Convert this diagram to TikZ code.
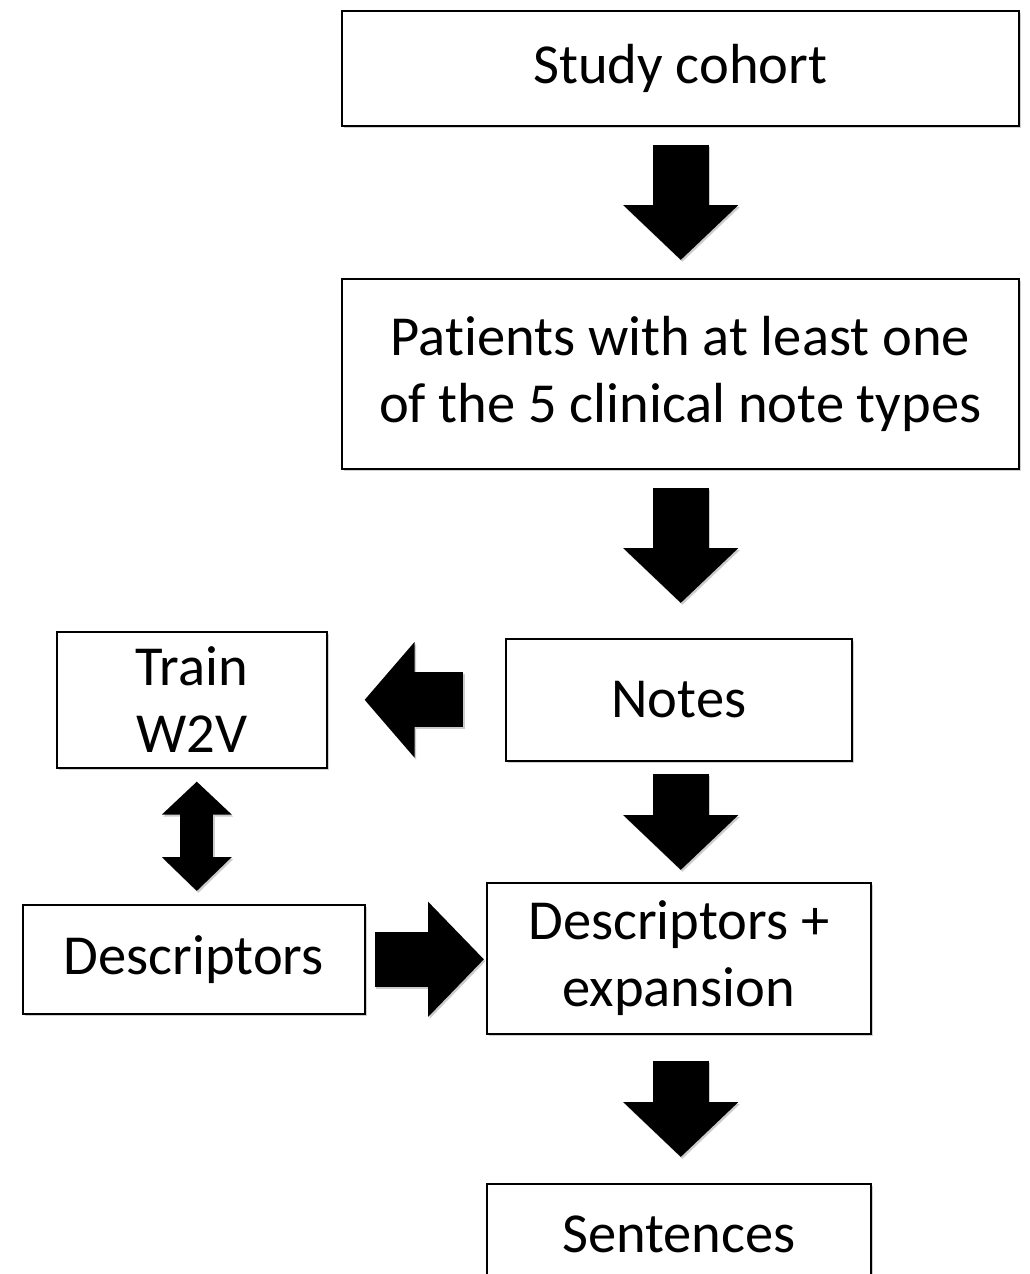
\documentclass[tikz,border=0pt]{standalone}
\usepackage{fontspec}
\setmainfont{Carlito}[Ligatures=NoCommon]
\usetikzlibrary{arrows.meta,shadows,calc}

\tikzset{
  box/.style={draw=black, line width=1.6pt, fill=white, inner sep=0pt,
    align=center, anchor=north west,
    font=\fontsize{56.5}{67}\selectfont,
    drop shadow={shadow xshift=2pt, shadow yshift=-2.5pt, opacity=0.3, fill=black!60}},
  shade blk/.style={draw=black!20, transform canvas={shift={(1.5,2)}}},
  solid blk/.style={draw=black},
  downarrow/.style={line width=56pt, -{Triangle[length=55pt, width=112pt]}},
  siblk/.style={line width=55pt, -{Triangle[length=50pt, width=113pt]}},
  dblblk/.style={line width=33pt, {Triangle[length=33pt, width=68pt]}-{Triangle[length=34pt, width=68pt]}},
}

\begin{document}
\begin{tikzpicture}[x=1pt, y=-1pt]
  \useasboundingbox (0,0) rectangle (1030,1274);
  \clip (0,0) rectangle (1030,1274);
  \fill[white] (0,0) rectangle (1030,1274);

  % process boxes
  \node[box, minimum width=677pt, minimum height=115pt] (cohort) at (341,10) {Study cohort};
  \node[box, minimum width=677pt, minimum height=190pt] (patients) at (341,278)
    {Patients with at least one\\of the 5 clinical note types};
  \node[box, minimum width=346pt, minimum height=122pt] (notes) at (505,638) {Notes};
  \node[box, minimum width=270pt, minimum height=136pt] (train) at (56,631) {Train\\W2V};
  \node[box, minimum width=342pt, minimum height=109pt] (desc) at (22,904) {Descriptors};
  \node[box, minimum width=384pt, minimum height=151pt] (expand) at (486,882)
    {Descriptors +\\expansion};
  \node[box, minimum width=384pt, text height=69pt, text depth=82pt] (sent) at (486,1183)
    {Sentences};

  % block arrows, first a light offset copy, then the black arrow
  \foreach \st in {shade blk, solid blk} {
    \draw[downarrow, \st, shorten <=18pt, shorten >=18pt]
      ($(cohort.south)+(0.5,0)$) -- ($(cohort.south |- patients.north)+(0.5,0)$);
    \draw[downarrow, \st, shorten <=18pt, shorten >=35pt]
      ($(patients.south)+(0.5,0)$) -- ($(patients.south |- notes.north)+(0.5,0)$);
    \draw[downarrow, \st, shorten <=12pt, shorten >=12pt]
      ($(notes.south)+(2,0)$) -- ($(notes.south |- expand.north)+(2,0)$);
    \draw[downarrow, \st, shorten <=26pt, shorten >=26pt]
      ($(expand.south)+(2,0)$) -- ($(expand.south |- sent.north)+(2,0)$);
    \draw[siblk, \st, shorten <=42pt, shorten >=37pt]
      (notes.west) -- (notes.west -| train.east);
    \draw[dblblk, \st, shorten <=13pt, shorten >=13pt]
      ($(train.south)+(5,0)$) -- ($(train.south |- desc.north)+(5,0)$);
    \draw[siblk, \st, shorten <=9pt, shorten >=2pt,
          -{Triangle[length=56pt, width=112pt]}]
      (desc.east) -- (desc.east -| expand.west);
  }
\end{tikzpicture}
\end{document}
